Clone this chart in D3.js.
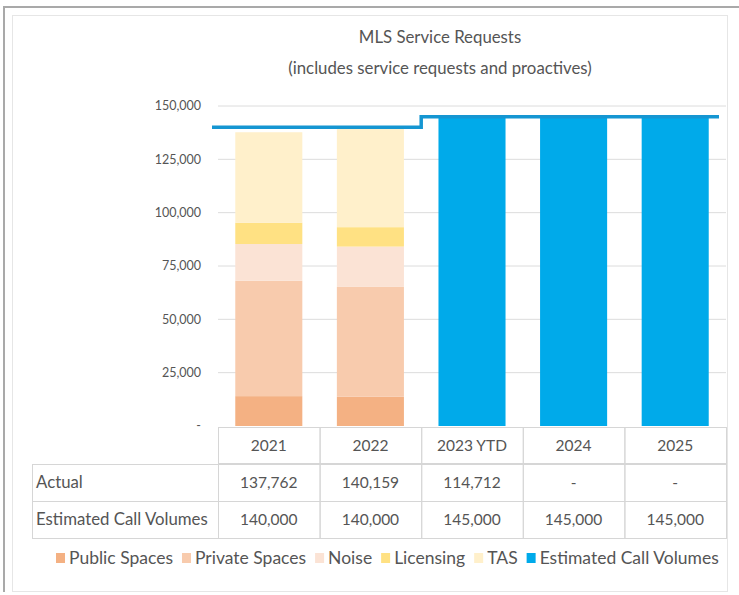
<!doctype html>
<html lang="en">
<head>
<meta charset="utf-8" />
<title>MLS Service Requests</title>
<script src="https://d3js.org/d3.v7.min.js"></script>
<style>
  body { margin: 0; background: #fff; }
  text { font-family: Lato, "Open Sans", sans-serif; fill: #555; }
</style>
</head>
<body>
<div id="chart"></div>
<script>
// ---- data ----
const years = ["2021", "2022", "2023 YTD", "2024", "2025"];
const publicSpaces  = [14000, 13700, 0, 0, 0];
const privateSpaces = [54100, 51500, 0, 0, 0];
const noise         = [17200, 18900, 0, 0, 0];
const licensing     = [10000, 9100, 0, 0, 0];
const tas           = [42400, 46900, 0, 0, 0];
const estimatedBars = [0, 0, 145000, 145000, 145000];
const actual        = [137762, 140159, 114712, null, null];
const estimated     = [140000, 140000, 145000, 145000, 145000];
const yTicks = [0, 25000, 50000, 75000, 100000, 125000, 150000];

const seriesNames = ["Public Spaces", "Private Spaces", "Noise", "Licensing", "TAS"];
const seriesValues = [publicSpaces, privateSpaces, noise, licensing, tas];
const seriesColors = ["#f4b183", "#f8cbad", "#fbe3d5", "#ffe183", "#fff0cb"];
const blue = "#00aaea";

const W = 739, H = 595;
const svg = d3.select("#chart").append("svg")
    .attr("width", W).attr("height", H);

// frame
svg.append("line").attr("x1", 4).attr("x2", W).attr("y1", 7).attr("y2", 7)
    .attr("stroke", "#a9a9a9").attr("stroke-width", 2);
svg.append("line").attr("x1", 4).attr("x2", 4).attr("y1", 6).attr("y2", 592)
    .attr("stroke", "#a9a9a9").attr("stroke-width", 2);
svg.append("rect").attr("x", 12.5).attr("y", 15.5).attr("width", 715).attr("height", 576)
    .attr("fill", "none").attr("stroke", "#e6e6e6");

// title
svg.append("text").attr("x", 440).attr("y", 43).attr("text-anchor", "middle")
    .style("font-size", "16.8px").text("MLS Service Requests");
svg.append("text").attr("x", 440).attr("y", 74).attr("text-anchor", "middle")
    .style("font-size", "16.8px").text("(includes service requests and proactives)");

// scales
const x = d3.scaleBand().domain(years).range([218, 726])
    .paddingInner(0.34).paddingOuter(0.17);
const y = d3.scaleLinear().domain([0, 150000]).range([426, 106]);
const step = x.step();

// gridlines + tick labels
svg.append("g").selectAll("line").data(yTicks.filter(d => d > 0)).join("line")
    .attr("x1", x.range()[0]).attr("x2", x.range()[1])
    .attr("y1", d => y(d)).attr("y2", d => y(d))
    .attr("stroke", "#dcdcdc").attr("stroke-width", 1);
svg.append("g").selectAll("text").data(yTicks).join("text")
    .attr("x", 201).attr("y", d => y(d)).attr("dy", "0.35em")
    .attr("text-anchor", "end").style("font-size", "12.5px")
    .text(d => d === 0 ? "-" : d3.format(",")(d));

// stacked bars
const rows = years.map((yr, i) => {
  const r = { year: yr };
  seriesNames.forEach((s, k) => r[s] = seriesValues[k][i]);
  return r;
});
const stacked = d3.stack().keys(seriesNames)(rows);
svg.append("g").selectAll("g").data(stacked).join("g")
    .attr("fill", (d, k) => seriesColors[k])
  .selectAll("rect").data(d => d.filter(p => p[1] > p[0])).join("rect")
    .attr("x", d => x(d.data.year))
    .attr("width", x.bandwidth())
    .attr("y", d => y(d[1]))
    .attr("height", d => y(d[0]) - y(d[1]));

// estimated call volume bars
svg.append("g").selectAll("rect")
    .data(years.map((yr, i) => ({ year: yr, v: estimatedBars[i] })).filter(d => d.v > 0))
    .join("rect")
    .attr("x", d => x(d.year)).attr("width", x.bandwidth())
    .attr("y", d => y(d.v)).attr("height", d => y(0) - y(d.v))
    .attr("fill", blue);

// stepped estimate line
const linePts = years.map((yr, i) => [x(yr) + x.bandwidth() / 2, y(estimated[i])]);
linePts.unshift([x.range()[0] - 6, y(estimated[0])]);
linePts.push([x.range()[1] - 7, y(estimated[estimated.length - 1])]);
svg.append("path").datum(linePts)
    .attr("d", d3.line().curve(d3.curveStep))
    .attr("fill", "none").attr("stroke", "#1596d2").attr("stroke-width", 3.5);

// data table
const tableLeft = 32, headTop = 427, rowH = 37;
const colX = yr => x(yr) - step * x.paddingInner() / 2;
const tg = svg.append("g");
const gridColor = "#d6d6d6";
// header row
years.forEach(yr => {
  tg.append("rect").attr("x", colX(yr) + 0.5).attr("y", headTop + 0.5)
    .attr("width", step).attr("height", rowH - 1)
    .attr("fill", "none").attr("stroke", gridColor);
  tg.append("text").attr("x", colX(yr) + step / 2).attr("y", headTop + rowH / 2)
    .attr("dy", "0.35em").attr("text-anchor", "middle").style("font-size", "15.5px").text(yr);
});
const tableRows = [
  { label: "Actual", vals: actual },
  { label: "Estimated Call Volumes", vals: estimated }
];
tableRows.forEach((r, ri) => {
  const top = headTop + rowH * (ri + 1);
  tg.append("rect").attr("x", tableLeft + 0.5).attr("y", top + 0.5)
    .attr("width", x.range()[0] - tableLeft).attr("height", rowH)
    .attr("fill", "none").attr("stroke", gridColor);
  tg.append("text").attr("x", tableLeft + 4).attr("y", top + rowH / 2)
    .attr("dy", "0.35em").style("font-size", "16.8px").text(r.label);
  years.forEach((yr, i) => {
    tg.append("rect").attr("x", colX(yr) + 0.5).attr("y", top + 0.5)
      .attr("width", step).attr("height", rowH)
      .attr("fill", "none").attr("stroke", gridColor);
    tg.append("text").attr("x", colX(yr) + step / 2).attr("y", top + rowH / 2)
      .attr("dy", "0.35em").attr("text-anchor", "middle").style("font-size", "15.5px")
      .text(r.vals[i] == null ? "-" : d3.format(",")(r.vals[i]));
  });
});

// legend
const legendItems = seriesNames.map((n, k) => ({ name: n, color: seriesColors[k] }))
    .concat([{ name: "Estimated Call Volumes", color: blue }]);
const lg = svg.append("g");
let lx = 56;
const ly = 558;
legendItems.forEach(it => {
  lg.append("rect").attr("x", lx).attr("y", ly - 5).attr("width", 9).attr("height", 10)
    .attr("fill", it.color);
  const t = lg.append("text").attr("x", lx + 13).attr("y", ly).attr("dy", "0.35em")
    .style("font-size", "17.5px").text(it.name);
  lx += 13 + t.node().getComputedTextLength() + 9;
});
</script>
</body>
</html>
